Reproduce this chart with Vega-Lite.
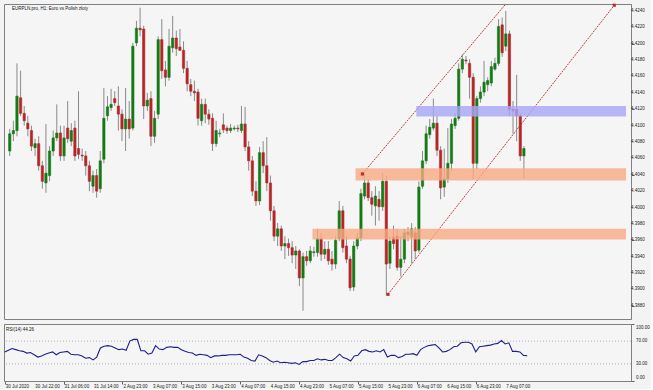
{
"$schema":"https://vega.github.io/schema/vega-lite/v6.json",
"background":"#f3f3f3",
"padding":{"left":2,"top":3,"right":0,"bottom":0},
"spacing":3,
"config":{"view":{"stroke":"#808080","fill":"#f5f5f5"},"text":{"font":"Liberation Sans"}},
"datasets":{
"candles":[
{"i":0,"o":4.4069,"h":4.4096,"l":4.4063,"c":4.4090},
{"i":1,"o":4.4090,"h":4.4106,"l":4.4081,"c":4.4094},
{"i":2,"o":4.4094,"h":4.4176,"l":4.4087,"c":4.4136},
{"i":3,"o":4.4134,"h":4.4167,"l":4.4112,"c":4.4115},
{"i":4,"o":4.4115,"h":4.4124,"l":4.4100,"c":4.4106},
{"i":5,"o":4.4103,"h":4.4112,"l":4.4087,"c":4.4096},
{"i":6,"o":4.4094,"h":4.4100,"l":4.4069,"c":4.4075},
{"i":7,"o":4.4073,"h":4.4084,"l":4.4063,"c":4.4078},
{"i":8,"o":4.4078,"h":4.4087,"l":4.4045,"c":4.4051},
{"i":9,"o":4.4051,"h":4.4057,"l":4.4023,"c":4.4032},
{"i":10,"o":4.4030,"h":4.4102,"l":4.4018,"c":4.4042},
{"i":11,"o":4.4039,"h":4.4075,"l":4.4032,"c":4.4069},
{"i":12,"o":4.4069,"h":4.4094,"l":4.4063,"c":4.4085},
{"i":13,"o":4.4085,"h":4.4126,"l":4.4081,"c":4.4091},
{"i":14,"o":4.4091,"h":4.4100,"l":4.4057,"c":4.4063},
{"i":15,"o":4.4063,"h":4.4100,"l":4.4057,"c":4.4085},
{"i":16,"o":4.4097,"h":4.4130,"l":4.4079,"c":4.4084},
{"i":17,"o":4.4081,"h":4.4103,"l":4.4075,"c":4.4094},
{"i":18,"o":4.4097,"h":4.4106,"l":4.4057,"c":4.4063},
{"i":19,"o":4.4072,"h":4.4142,"l":4.4059,"c":4.4065},
{"i":20,"o":4.4064,"h":4.4072,"l":4.4057,"c":4.4063},
{"i":21,"o":4.4063,"h":4.4069,"l":4.4039,"c":4.4051},
{"i":22,"o":4.4051,"h":4.4057,"l":4.4020,"c":4.4032},
{"i":23,"o":4.4026,"h":4.4045,"l":4.4018,"c":4.4039},
{"i":24,"o":4.4039,"h":4.4047,"l":4.4012,"c":4.4020},
{"i":25,"o":4.4023,"h":4.4069,"l":4.4018,"c":4.4057},
{"i":26,"o":4.4059,"h":4.4146,"l":4.4054,"c":4.4109},
{"i":27,"o":4.4112,"h":4.4136,"l":4.4106,"c":4.4123},
{"i":28,"o":4.4122,"h":4.4145,"l":4.4118,"c":4.4126},
{"i":29,"o":4.4133,"h":4.4142,"l":4.4124,"c":4.4128},
{"i":30,"o":4.4124,"h":4.4148,"l":4.4094,"c":4.4114},
{"i":31,"o":4.4114,"h":4.4120,"l":4.4081,"c":4.4096},
{"i":32,"o":4.4096,"h":4.4146,"l":4.4069,"c":4.4108},
{"i":33,"o":4.4108,"h":4.4130,"l":4.4084,"c":4.4096},
{"i":34,"o":4.4097,"h":4.4201,"l":4.4094,"c":4.4197},
{"i":35,"o":4.4201,"h":4.4228,"l":4.4197,"c":4.4219},
{"i":36,"o":4.4219,"h":4.4244,"l":4.4209,"c":4.4217},
{"i":37,"o":4.4218,"h":4.4222,"l":4.4108,"c":4.4124},
{"i":38,"o":4.4124,"h":4.4140,"l":4.4118,"c":4.4131},
{"i":39,"o":4.4133,"h":4.4142,"l":4.4075,"c":4.4087},
{"i":40,"o":4.4087,"h":4.4118,"l":4.4079,"c":4.4109},
{"i":41,"o":4.4114,"h":4.4209,"l":4.4108,"c":4.4205},
{"i":42,"o":4.4205,"h":4.4230,"l":4.4157,"c":4.4167},
{"i":43,"o":4.4168,"h":4.4179,"l":4.4148,"c":4.4159},
{"i":44,"o":4.4159,"h":4.4218,"l":4.4155,"c":4.4197},
{"i":45,"o":4.4195,"h":4.4234,"l":4.4189,"c":4.4207},
{"i":46,"o":4.4207,"h":4.4216,"l":4.4185,"c":4.4194},
{"i":47,"o":4.4196,"h":4.4218,"l":4.4191,"c":4.4192},
{"i":48,"o":4.4192,"h":4.4203,"l":4.4164,"c":4.4170},
{"i":49,"o":4.4170,"h":4.4179,"l":4.4142,"c":4.4151},
{"i":50,"o":4.4150,"h":4.4157,"l":4.4136,"c":4.4142},
{"i":51,"o":4.4142,"h":4.4155,"l":4.4130,"c":4.4140},
{"i":52,"o":4.4141,"h":4.4145,"l":4.4100,"c":4.4109},
{"i":53,"o":4.4106,"h":4.4133,"l":4.4100,"c":4.4126},
{"i":54,"o":4.4126,"h":4.4133,"l":4.4103,"c":4.4114},
{"i":55,"o":4.4114,"h":4.4120,"l":4.4101,"c":4.4108},
{"i":56,"o":4.4109,"h":4.4115,"l":4.4069,"c":4.4078},
{"i":57,"o":4.4078,"h":4.4106,"l":4.4074,"c":4.4094},
{"i":58,"o":4.4090,"h":4.4096,"l":4.4086,"c":4.4091},
{"i":59,"o":4.4101,"h":4.4115,"l":4.4091,"c":4.4095},
{"i":60,"o":4.4097,"h":4.4100,"l":4.4090,"c":4.4094},
{"i":61,"o":4.4094,"h":4.4102,"l":4.4091,"c":4.4097},
{"i":62,"o":4.4096,"h":4.4100,"l":4.4094,"c":4.4097},
{"i":63,"o":4.4097,"h":4.4101,"l":4.4092,"c":4.4096},
{"i":64,"o":4.4094,"h":4.4124,"l":4.4091,"c":4.4102},
{"i":65,"o":4.4102,"h":4.4123,"l":4.4069,"c":4.4074},
{"i":66,"o":4.4074,"h":4.4081,"l":4.4045,"c":4.4057},
{"i":67,"o":4.4057,"h":4.4063,"l":4.4014,"c":4.4020},
{"i":68,"o":4.4020,"h":4.4032,"l":4.4002,"c":4.4008},
{"i":69,"o":4.4008,"h":4.4074,"l":4.4003,"c":4.4067},
{"i":70,"o":4.4067,"h":4.4081,"l":4.4042,"c":4.4051},
{"i":71,"o":4.4051,"h":4.4086,"l":4.4020,"c":4.4030},
{"i":72,"o":4.4030,"h":4.4039,"l":4.3984,"c":4.3996},
{"i":73,"o":4.3996,"h":4.4002,"l":4.3959,"c":4.3965},
{"i":74,"o":4.3965,"h":4.3981,"l":4.3953,"c":4.3974},
{"i":75,"o":4.3974,"h":4.3978,"l":4.3947,"c":4.3953},
{"i":76,"o":4.3953,"h":4.3965,"l":4.3937,"c":4.3956},
{"i":77,"o":4.3956,"h":4.3962,"l":4.3941,"c":4.3951},
{"i":78,"o":4.3951,"h":4.3959,"l":4.3932,"c":4.3942},
{"i":79,"o":4.3942,"h":4.3953,"l":4.3925,"c":4.3947},
{"i":80,"o":4.3947,"h":4.3949,"l":4.3904,"c":4.3914},
{"i":81,"o":4.3914,"h":4.3945,"l":4.3874,"c":4.3940},
{"i":82,"o":4.3940,"h":4.3947,"l":4.3929,"c":4.3935},
{"i":83,"o":4.3935,"h":4.3953,"l":4.3932,"c":4.3947},
{"i":84,"o":4.3945,"h":4.3952,"l":4.3940,"c":4.3946},
{"i":85,"o":4.3945,"h":4.3974,"l":4.3940,"c":4.3962},
{"i":86,"o":4.3962,"h":4.3969,"l":4.3935,"c":4.3943},
{"i":87,"o":4.3943,"h":4.3959,"l":4.3937,"c":4.3949},
{"i":88,"o":4.3949,"h":4.3959,"l":4.3930,"c":4.3935},
{"i":89,"o":4.3937,"h":4.3947,"l":4.3923,"c":4.3931},
{"i":90,"o":4.3931,"h":4.3965,"l":4.3925,"c":4.3960},
{"i":91,"o":4.3962,"h":4.4008,"l":4.3959,"c":4.3996},
{"i":92,"o":4.3996,"h":4.4002,"l":4.3945,"c":4.3951},
{"i":93,"o":4.3953,"h":4.3965,"l":4.3932,"c":4.3937},
{"i":94,"o":4.3937,"h":4.3941,"l":4.3898,"c":4.3902},
{"i":95,"o":4.3903,"h":4.3959,"l":4.3898,"c":4.3953},
{"i":96,"o":4.3953,"h":4.3969,"l":4.3949,"c":4.3963},
{"i":97,"o":4.3963,"h":4.4023,"l":4.3959,"c":4.4017},
{"i":98,"o":4.4014,"h":4.4042,"l":4.4010,"c":4.4030},
{"i":99,"o":4.4030,"h":4.4035,"l":4.4008,"c":4.4012},
{"i":100,"o":4.4012,"h":4.4020,"l":4.3990,"c":4.4004},
{"i":101,"o":4.4002,"h":4.4026,"l":4.3978,"c":4.4014},
{"i":102,"o":4.4010,"h":4.4020,"l":4.3984,"c":4.4001},
{"i":103,"o":4.4001,"h":4.4042,"l":4.3996,"c":4.4032},
{"i":104,"o":4.4032,"h":4.4039,"l":4.3893,"c":4.3931},
{"i":105,"o":4.3932,"h":4.3965,"l":4.3925,"c":4.3959},
{"i":106,"o":4.3964,"h":4.3978,"l":4.3949,"c":4.3956},
{"i":107,"o":4.3965,"h":4.3974,"l":4.3923,"c":4.3927},
{"i":108,"o":4.3927,"h":4.3965,"l":4.3916,"c":4.3937},
{"i":109,"o":4.3937,"h":4.3974,"l":4.3932,"c":4.3969},
{"i":110,"o":4.3970,"h":4.3976,"l":4.3959,"c":4.3967},
{"i":111,"o":4.3964,"h":4.3981,"l":4.3932,"c":4.3974},
{"i":112,"o":4.3969,"h":4.3976,"l":4.3937,"c":4.3947},
{"i":113,"o":4.3948,"h":4.4032,"l":4.3945,"c":4.4025},
{"i":114,"o":4.4026,"h":4.4069,"l":4.4023,"c":4.4057},
{"i":115,"o":4.4057,"h":4.4100,"l":4.4053,"c":4.4090},
{"i":116,"o":4.4089,"h":4.4108,"l":4.4084,"c":4.4098},
{"i":117,"o":4.4097,"h":4.4133,"l":4.4094,"c":4.4103},
{"i":118,"o":4.4103,"h":4.4112,"l":4.4063,"c":4.4070},
{"i":119,"o":4.4070,"h":4.4075,"l":4.4010,"c":4.4024},
{"i":120,"o":4.4025,"h":4.4072,"l":4.4013,"c":4.4035},
{"i":121,"o":4.4035,"h":4.4097,"l":4.4030,"c":4.4054},
{"i":122,"o":4.4054,"h":4.4108,"l":4.4045,"c":4.4102},
{"i":123,"o":4.4100,"h":4.4115,"l":4.4096,"c":4.4109},
{"i":124,"o":4.4109,"h":4.4176,"l":4.4106,"c":4.4169},
{"i":125,"o":4.4169,"h":4.4187,"l":4.4164,"c":4.4181},
{"i":126,"o":4.4180,"h":4.4185,"l":4.4175,"c":4.4179},
{"i":127,"o":4.4176,"h":4.4181,"l":4.4133,"c":4.4159},
{"i":128,"o":4.4159,"h":4.4164,"l":4.4035,"c":4.4054},
{"i":129,"o":4.4054,"h":4.4136,"l":4.4047,"c":4.4133},
{"i":130,"o":4.4133,"h":4.4148,"l":4.4128,"c":4.4141},
{"i":131,"o":4.4141,"h":4.4179,"l":4.4136,"c":4.4153},
{"i":132,"o":4.4150,"h":4.4159,"l":4.4142,"c":4.4155},
{"i":133,"o":4.4152,"h":4.4179,"l":4.4148,"c":4.4172},
{"i":134,"o":4.4169,"h":4.4183,"l":4.4167,"c":4.4176},
{"i":135,"o":4.4176,"h":4.4230,"l":4.4173,"c":4.4221},
{"i":136,"o":4.4223,"h":4.4232,"l":4.4184,"c":4.4189},
{"i":137,"o":4.4197,"h":4.4240,"l":4.4191,"c":4.4212},
{"i":138,"o":4.4212,"h":4.4216,"l":4.4112,"c":4.4120},
{"i":139,"o":4.4120,"h":4.4130,"l":4.4090,"c":4.4118},
{"i":140,"o":4.4120,"h":4.4162,"l":4.4081,"c":4.4112},
{"i":141,"o":4.4112,"h":4.4115,"l":4.4057,"c":4.4063},
{"i":142,"o":4.4063,"h":4.4075,"l":4.4035,"c":4.4072}
],
"rsi":[
{"i":0,"v":51},{"i":1,"v":54},{"i":2,"v":57},{"i":3,"v":55},{"i":4,"v":53},{"i":5,"v":52},{"i":6,"v":49},{"i":7,"v":50},{"i":8,"v":46},{"i":9,"v":42},
{"i":10,"v":44},{"i":11,"v":47},{"i":12,"v":49},{"i":13,"v":51},{"i":14,"v":46},{"i":15,"v":50},{"i":16,"v":51},{"i":17,"v":52},{"i":18,"v":47},{"i":19,"v":46},
{"i":20,"v":46},{"i":21,"v":44},{"i":22,"v":40},{"i":23,"v":41},{"i":24,"v":37},{"i":25,"v":42},{"i":26,"v":58},{"i":27,"v":61},{"i":28,"v":62},{"i":29,"v":61},
{"i":30,"v":58},{"i":31,"v":55},{"i":32,"v":56},{"i":33,"v":54},{"i":34,"v":70},{"i":35,"v":73},{"i":36,"v":73},{"i":37,"v":53},{"i":38,"v":53},{"i":39,"v":47},
{"i":40,"v":49},{"i":41,"v":62},{"i":42,"v":56},{"i":43,"v":55},{"i":44,"v":59},{"i":45,"v":60},{"i":46,"v":59},{"i":47,"v":59},{"i":48,"v":55},{"i":49,"v":52},
{"i":50,"v":50},{"i":51,"v":49},{"i":52,"v":45},{"i":53,"v":47},{"i":54,"v":46},{"i":55,"v":45},{"i":56,"v":41},{"i":57,"v":44},{"i":58,"v":44},{"i":59,"v":45},
{"i":60,"v":45},{"i":61,"v":46},{"i":62,"v":46},{"i":63,"v":46},{"i":64,"v":47},{"i":65,"v":42},{"i":66,"v":40},{"i":67,"v":36},{"i":68,"v":35},{"i":69,"v":46},
{"i":70,"v":44},{"i":71,"v":41},{"i":72,"v":36},{"i":73,"v":33},{"i":74,"v":35},{"i":75,"v":32},{"i":76,"v":33},{"i":77,"v":32},{"i":78,"v":31},{"i":79,"v":32},
{"i":80,"v":29},{"i":81,"v":34},{"i":82,"v":34},{"i":83,"v":36},{"i":84,"v":36},{"i":85,"v":39},{"i":86,"v":37},{"i":87,"v":38},{"i":88,"v":36},{"i":89,"v":36},
{"i":90,"v":41},{"i":91,"v":47},{"i":92,"v":41},{"i":93,"v":39},{"i":94,"v":35},{"i":95,"v":44},{"i":96,"v":45},{"i":97,"v":53},{"i":98,"v":55},{"i":99,"v":52},
{"i":100,"v":51},{"i":101,"v":53},{"i":102,"v":51},{"i":103,"v":55},{"i":104,"v":42},{"i":105,"v":45},{"i":106,"v":45},{"i":107,"v":41},{"i":108,"v":43},{"i":109,"v":47},
{"i":110,"v":47},{"i":111,"v":48},{"i":112,"v":45},{"i":113,"v":55},{"i":114,"v":59},{"i":115,"v":62},{"i":116,"v":63},{"i":117,"v":64},{"i":118,"v":58},{"i":119,"v":51},
{"i":120,"v":52},{"i":121,"v":55},{"i":122,"v":60},{"i":123,"v":61},{"i":124,"v":67},{"i":125,"v":68},{"i":126,"v":68},{"i":127,"v":65},{"i":128,"v":51},{"i":129,"v":60},
{"i":130,"v":61},{"i":131,"v":62},{"i":132,"v":63},{"i":133,"v":65},{"i":134,"v":66},{"i":135,"v":71},{"i":136,"v":65},{"i":137,"v":67},{"i":138,"v":52},{"i":139,"v":52},
{"i":140,"v":51},{"i":141,"v":45},{"i":142,"v":44.26}
],
"zones":[
{"x1":95.5,"x2":170.2,"p1":4.4033,"p2":4.4048,"k":"o"},
{"x1":83.6,"x2":170.2,"p1":4.3961,"p2":4.3974,"k":"o"},
{"x1":112.3,"x2":170.2,"p1":4.4111,"p2":4.4124,"k":"b"}
],
"chan":[
{"g":"lo","t":104.46,"p":4.3894},
{"g":"lo","t":166.96,"p":4.4247},
{"g":"up","t":97.4,"p":4.4041},
{"g":"up","t":140.9,"p":4.4269}
],
"anchors":[
{"t":104.46,"p":4.3894},
{"t":166.96,"p":4.4247},
{"t":97.4,"p":4.4041}
],
"levels":[{"lv":30},{"lv":70}],
"plabels":[{"p":4.388},{"p":4.390},{"p":4.392},{"p":4.394},{"p":4.396},{"p":4.398},{"p":4.400},{"p":4.402},{"p":4.404},{"p":4.406},{"p":4.408},{"p":4.410},{"p":4.412},{"p":4.414},{"p":4.416},{"p":4.418},{"p":4.420},{"p":4.422},{"p":4.424}],
"rlabels":[{"v":0},{"v":30},{"v":70},{"v":100}],
"dates":[
{"t":0,"s":"30 Jul 2020"},{"t":8,"s":"30 Jul 22:00"},{"t":16,"s":"31 Jul 06:00"},{"t":24,"s":"31 Jul 14:00"},{"t":32,"s":"2 Aug 23:00"},{"t":40,"s":"3 Aug 07:00"},
{"t":48,"s":"3 Aug 15:00"},{"t":56,"s":"3 Aug 23:00"},{"t":64,"s":"4 Aug 07:00"},{"t":72,"s":"4 Aug 15:00"},{"t":80,"s":"4 Aug 23:00"},{"t":88,"s":"5 Aug 07:00"},
{"t":96,"s":"5 Aug 15:00"},{"t":104,"s":"5 Aug 23:00"},{"t":112,"s":"6 Aug 07:00"},{"t":120,"s":"6 Aug 15:00"},{"t":128,"s":"6 Aug 23:00"},{"t":136,"s":"7 Aug 07:00"}
]
},
"vconcat":[
{
"width":627,"height":315,
"layer":[
{"data":{"name":"chan"},"mark":{"type":"line","clip":true,"strokeDash":[2,1],"strokeWidth":1,"color":"#b8433c"},
"encoding":{"x":{"field":"t","type":"quantitative","scale":{"domain":[-0.2,170.2],"nice":false,"zero":false},"axis":null},
"y":{"field":"p","type":"quantitative","scale":{"domain":[4.38639,4.42485],"nice":false,"zero":false},
"axis":{"orient":"right","title":null,"grid":false,"labels":false,"values":[4.388,4.390,4.392,4.394,4.396,4.398,4.400,4.402,4.404,4.406,4.408,4.410,4.412,4.414,4.416,4.418,4.420,4.422,4.424],"tickSize":3,"tickColor":"#666666","domainColor":"#808080"}},
"detail":{"field":"g"}}},
{"data":{"name":"candles"},"mark":{"type":"rule","color":"#8a8a8a","strokeWidth":1},
"encoding":{"x":{"field":"i","type":"quantitative","scale":{"domain":[-0.2,170.2],"nice":false,"zero":false}},
"y":{"field":"l","type":"quantitative","scale":{"domain":[4.38639,4.42485],"nice":false,"zero":false}},"y2":{"field":"h"}}},
{"data":{"name":"candles"},"mark":{"type":"bar","size":2.3,"strokeWidth":0.6},
"encoding":{"x":{"field":"i","type":"quantitative","scale":{"domain":[-0.2,170.2],"nice":false,"zero":false}},
"y":{"field":"o","type":"quantitative","scale":{"domain":[4.38639,4.42485],"nice":false,"zero":false}},"y2":{"field":"c"},
"color":{"condition":{"test":"datum.c >= datum.o","value":"#157a15"},"value":"#b42626"},
"stroke":{"condition":{"test":"datum.c >= datum.o","value":"#157a15"},"value":"#b42626"}}},
{"data":{"name":"zones"},"mark":{"type":"rect","opacity":0.8,"clip":true},
"encoding":{"x":{"field":"x1","type":"quantitative","scale":{"domain":[-0.2,170.2],"nice":false,"zero":false}},"x2":{"field":"x2"},
"y":{"field":"p1","type":"quantitative","scale":{"domain":[4.38639,4.42485],"nice":false,"zero":false}},"y2":{"field":"p2"},
"color":{"field":"k","type":"nominal","scale":{"domain":["o","b"],"range":["#f9aa85","#a6a6f7"]},"legend":null}}},
{"data":{"name":"anchors"},"mark":{"type":"square","size":10,"opacity":1,"color":"#b8302a"},
"encoding":{"x":{"field":"t","type":"quantitative","scale":{"domain":[-0.2,170.2],"nice":false,"zero":false}},
"y":{"field":"p","type":"quantitative","scale":{"domain":[4.38639,4.42485],"nice":false,"zero":false}}}},
{"data":{"name":"plabels"},"mark":{"type":"text","align":"left","baseline":"middle","fontSize":4.5,"color":"#222222","dx":5},
"encoding":{"x":{"datum":170.2,"type":"quantitative","scale":{"domain":[-0.2,170.2],"nice":false,"zero":false}},
"y":{"field":"p","type":"quantitative","scale":{"domain":[4.38639,4.42485],"nice":false,"zero":false}},"text":{"field":"p","type":"quantitative","format":".4f"}}},
{"data":{"values":[{"txt":"EURPLN.pro, H1: Euro vs Polish zloty"}]},"mark":{"type":"text","align":"left","baseline":"top","fontSize":4.5,"color":"#111111","dx":3,"dy":2},
"encoding":{"x":{"datum":-0.2,"type":"quantitative","scale":{"domain":[-0.2,170.2],"nice":false,"zero":false}},
"y":{"datum":4.42485,"type":"quantitative","scale":{"domain":[4.38639,4.42485],"nice":false,"zero":false}},"text":{"field":"txt"}}}
]
},
{
"width":627,"height":57,
"layer":[
{"data":{"name":"levels"},"mark":{"type":"rule","color":"#b0b0b0","strokeDash":[1,2],"strokeWidth":1},
"encoding":{"y":{"field":"lv","type":"quantitative","scale":{"domain":[0,100],"nice":false,"zero":false},
"axis":{"orient":"right","title":null,"grid":false,"labels":false,"values":[0,30,70,100],"tickSize":3,"tickColor":"#666666","domainColor":"#808080"}}}},
{"data":{"name":"rsi"},"mark":{"type":"line","color":"#1e1e8c","strokeWidth":1.1},
"encoding":{"x":{"field":"i","type":"quantitative","scale":{"domain":[-0.2,170.2],"nice":false,"zero":false},
"axis":{"orient":"bottom","title":null,"grid":false,"labels":false,"values":[0,8,16,24,32,40,48,56,64,72,80,88,96,104,112,120,128,136],"tickSize":3,"tickColor":"#666666","domainColor":"#808080"}},
"y":{"field":"v","type":"quantitative","scale":{"domain":[0,100],"nice":false,"zero":false}}}},
{"data":{"name":"dates"},"mark":{"type":"text","align":"left","baseline":"top","fontSize":4.5,"color":"#222222","dx":1,"dy":3},
"encoding":{"x":{"field":"t","type":"quantitative","scale":{"domain":[-0.2,170.2],"nice":false,"zero":false}},
"y":{"datum":0,"type":"quantitative","scale":{"domain":[0,100],"nice":false,"zero":false}},"text":{"field":"s"}}},
{"data":{"name":"rlabels"},"transform":[{"filter":"datum.v == 100"}],"mark":{"type":"text","align":"left","baseline":"top","fontSize":4.5,"color":"#222222","dx":5,"dy":1},
"encoding":{"x":{"datum":170.2,"type":"quantitative","scale":{"domain":[-0.2,170.2],"nice":false,"zero":false}},
"y":{"field":"v","type":"quantitative","scale":{"domain":[0,100],"nice":false,"zero":false}},"text":{"field":"v","type":"quantitative","format":".2f"}}},
{"data":{"name":"rlabels"},"transform":[{"filter":"datum.v == 30 || datum.v == 70"}],"mark":{"type":"text","align":"left","baseline":"middle","fontSize":4.5,"color":"#222222","dx":5},
"encoding":{"x":{"datum":170.2,"type":"quantitative","scale":{"domain":[-0.2,170.2],"nice":false,"zero":false}},
"y":{"field":"v","type":"quantitative","scale":{"domain":[0,100],"nice":false,"zero":false}},"text":{"field":"v","type":"quantitative","format":".2f"}}},
{"data":{"name":"rlabels"},"transform":[{"filter":"datum.v == 0"}],"mark":{"type":"text","align":"left","baseline":"bottom","fontSize":4.5,"color":"#222222","dx":5,"dy":-1},
"encoding":{"x":{"datum":170.2,"type":"quantitative","scale":{"domain":[-0.2,170.2],"nice":false,"zero":false}},
"y":{"field":"v","type":"quantitative","scale":{"domain":[0,100],"nice":false,"zero":false}},"text":{"field":"v","type":"quantitative","format":".2f"}}},
{"data":{"values":[{"txt":"RSI(14) 44.26"}]},"mark":{"type":"text","align":"left","baseline":"top","fontSize":4.5,"color":"#111111","dx":2,"dy":3},
"encoding":{"x":{"datum":-0.2,"type":"quantitative","scale":{"domain":[-0.2,170.2],"nice":false,"zero":false}},
"y":{"datum":100,"type":"quantitative","scale":{"domain":[0,100],"nice":false,"zero":false}},"text":{"field":"txt"}}}
]
}
]
}
